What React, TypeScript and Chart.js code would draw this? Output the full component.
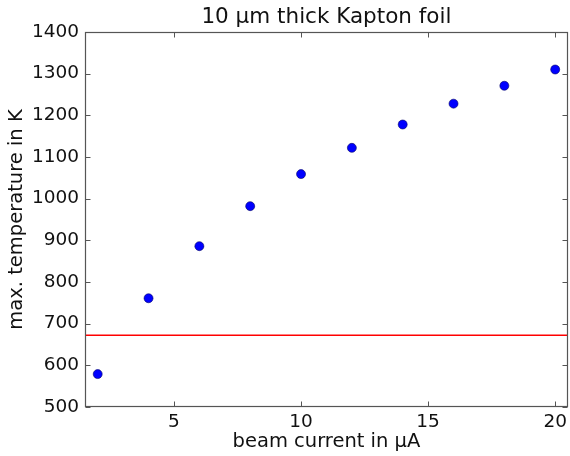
import { useEffect, useRef } from "react";
import { Chart, registerables } from "chart.js";
Chart.register(...registerables);

const beamCurrent = [2, 4, 6, 8, 10, 12, 14, 16, 18, 20];
const maxTemperature = [579, 761, 886, 982, 1059, 1122, 1178, 1228, 1271, 1310];
const thresholdTemperature = 672;
const xLimits = [1.5, 20.5];
const yLimits = [500, 1400];
const xTickValues = [5, 10, 15, 20];
const yTickValues = [500, 600, 700, 800, 900, 1000, 1100, 1200, 1300, 1400];
const titleText = "10 μm thick Kapton foil";
const xLabel = "beam current in μA";
const yLabel = "max. temperature in K";

const FONT = "'DejaVu Sans', sans-serif";
const TEXT = "#111111";
const SPINE = "#555555";

const framePlugin = {
  id: "frame",
  afterDatasetsDraw(chart: any) {
    const { ctx, chartArea } = chart;
    const xs = chart.scales.x;
    const ys = chart.scales.y;
    const l = Math.round(chartArea.left) + 0.5;
    const r = Math.round(chartArea.right) - 0.5;
    const t = Math.round(chartArea.top) + 0.5;
    const b = Math.round(chartArea.bottom) - 0.5;
    ctx.save();
    ctx.strokeStyle = SPINE;
    ctx.lineWidth = 1;
    const len = 5;
    ctx.beginPath();
    for (const v of xTickValues) {
      const p = Math.round(xs.getPixelForValue(v)) + 0.5;
      ctx.moveTo(p, b);
      ctx.lineTo(p, b - len);
      ctx.moveTo(p, t);
      ctx.lineTo(p, t + len);
    }
    for (const v of yTickValues) {
      const p = Math.round(ys.getPixelForValue(v)) + 0.5;
      ctx.moveTo(l, p);
      ctx.lineTo(l + len, p);
      ctx.moveTo(r, p);
      ctx.lineTo(r - len, p);
    }
    ctx.stroke();
    ctx.lineWidth = 1.2;
    ctx.strokeRect(l, t, r - l, b - t);
    ctx.restore();
  },
};

export default function App() {
  const ref = useRef<HTMLCanvasElement | null>(null);
  useEffect(() => {
    document.body.style.margin = "0";
    const canvas = ref.current;
    if (!canvas) return;
    const chart = new Chart(canvas, {
      type: "scatter",
      data: {
        datasets: [
          {
            data: beamCurrent.map((x, i) => ({ x, y: maxTemperature[i] })),
            backgroundColor: "#0000ff",
            borderColor: "#000066",
            borderWidth: 0.6,
            pointRadius: 4.5,
            showLine: false,
          },
          {
            type: "line",
            data: [
              { x: xLimits[0], y: thresholdTemperature },
              { x: xLimits[1], y: thresholdTemperature },
            ],
            borderColor: "#ff0000",
            borderWidth: 1.5,
            pointRadius: 0,
            fill: false,
          } as any,
        ],
      },
      options: {
        responsive: false,
        animation: false,
        layout: { padding: { left: 0, right: 0, top: 0, bottom: 0 } },
        plugins: {
          legend: { display: false },
          tooltip: { enabled: false },
          title: { display: false },
        },
        scales: {
          x: {
            type: "linear",
            position: "bottom",
            min: xLimits[0],
            max: xLimits[1],
            afterBuildTicks: (s: any) => {
              s.ticks = xTickValues.map((v) => ({ value: v }));
            },
            afterFit: (s: any) => {
              s.height = 49;
              s.paddingLeft = 0;
              s.paddingRight = 0;
            },
            grid: { display: false, drawTicks: false },
            border: { display: false },
            ticks: {
              color: TEXT,
              font: { family: FONT, size: 18.5 },
              padding: 4,
              maxRotation: 0,
              callback: (v: any) => String(v),
            },
            title: {
              display: true,
              text: xLabel,
              color: TEXT,
              font: { family: FONT, size: 19.5 },
              padding: { top: 0, bottom: 2 },
            },
          },
          xTop: {
            type: "linear",
            position: "top",
            min: xLimits[0],
            max: xLimits[1],
            afterFit: (s: any) => {
              s.height = 32;
              s.paddingLeft = 0;
              s.paddingRight = 0;
            },
            grid: { display: false, drawTicks: false },
            border: { display: false },
            ticks: { display: false },
            title: {
              display: true,
              text: titleText,
              color: TEXT,
              font: { family: FONT, size: 21.5 },
              padding: { top: 5, bottom: 2 },
            },
          },
          y: {
            type: "linear",
            min: yLimits[0],
            max: yLimits[1],
            afterBuildTicks: (s: any) => {
              s.ticks = yTickValues.map((v) => ({ value: v }));
            },
            afterFit: (s: any) => {
              s.width = 85;
              s.paddingTop = 0;
              s.paddingBottom = 0;
            },
            grid: { display: false, drawTicks: false },
            border: { display: false },
            ticks: {
              color: TEXT,
              font: { family: FONT, size: 18.5 },
              padding: 6,
              callback: (v: any) => String(v),
            },
            title: {
              display: true,
              text: yLabel,
              color: TEXT,
              font: { family: FONT, size: 19.5 },
              padding: { top: 5, bottom: 0 },
            },
          },
        },
      },
      plugins: [framePlugin],
    });
    return () => chart.destroy();
  }, []);
  return (
    <div style={{ width: 570, height: 456, overflow: "hidden" }}>
      <canvas ref={ref} width={573} height={456} style={{ display: "block" }} />
    </div>
  );
}
